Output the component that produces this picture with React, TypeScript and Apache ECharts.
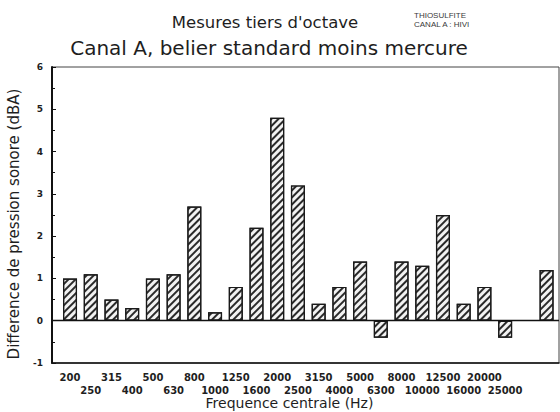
import React, { useEffect, useRef } from "react";
import * as echarts from "echarts";

const categories = ["200", "250", "315", "400", "500", "630", "800", "1000", "1250", "1600", "2000", "2500", "3150", "4000", "5000", "6300", "8000", "10000", "12500", "16000", "20000", "25000", "31500", "40000"];
const values: (number | null)[] = [1.0, 1.1, 0.5, 0.3, 1.0, 1.1, 2.7, 0.2, 0.8, 2.2, 4.8, 3.2, 0.4, 0.8, 1.4, -0.4, 1.4, 1.3, 2.5, 0.4, 0.8, -0.4, null, 1.2];
const labelledCount = 22;
const titleText = "Mesures tiers d'octave";
const subtitleText = "Canal A, belier standard moins mercure";
const noteLines = ["THIOSULFITE", "CANAL A : HIVI"];
const yName = "Difference de pression sonore (dBA)";
const xName = "Frequence centrale (Hz)";

export default function App() {
  const ref = useRef<HTMLDivElement>(null);
  useEffect(() => {
    if (!ref.current) return;
    const chart = echarts.init(ref.current, null, { renderer: "svg" });
    const font = "DejaVu Sans";
    const data = values
      .map((v, i) => (v === null ? null : [i, v]))
      .filter((d) => d !== null);
    const idx = categories.slice(0, labelledCount).map((_, i) => i);
    const labelStyle = {
      formatter: (v: number) => categories[Math.round(v)],
      hideOverlap: false,
      fontFamily: font,
      fontSize: 10,
      fontWeight: "bold",
      color: "#1e1e1e",
    };
    const xBase = {
      type: "value",
      min: -0.87,
      max: 23.6,
      position: "bottom",
      axisTick: { show: false },
      splitLine: { show: false },
    };
    chart.setOption({
      animation: false,
      backgroundColor: "#fff",
      grid: { left: 52, right: 1, top: 67, bottom: 49, show: true, borderColor: "#444", borderWidth: 1, containLabel: false, outerBoundsMode: "none" },
      graphic: [
        { type: "text", x: 265, y: 22, style: { text: titleText, fontFamily: font, fontSize: 16.5, fill: "#1e1e1e", textAlign: "center", textVerticalAlign: "middle" } },
        { type: "text", x: 269, y: 48, style: { text: subtitleText, fontFamily: font, fontSize: 20, fill: "#1e1e1e", textAlign: "center", textVerticalAlign: "middle" } },
        { type: "text", x: 414, y: 15, style: { text: noteLines[0], fontFamily: "Liberation Sans", fontSize: 8, fill: "#3a3a3a", textVerticalAlign: "middle" } },
        { type: "text", x: 414, y: 24, style: { text: noteLines[1], fontFamily: "Liberation Sans", fontSize: 8, fill: "#3a3a3a", textVerticalAlign: "middle" } },
      ],
      xAxis: [
        {
          ...xBase,
          name: xName,
          nameLocation: "middle",
          nameGap: 33,
          nameTextStyle: { fontFamily: font, fontSize: 14, color: "#1e1e1e", padding: [0, 32, 0, 0] },
          axisLine: { show: true, onZero: false, lineStyle: { color: "#111", width: 1.6 } },
          axisLabel: { ...labelStyle, customValues: idx.filter((i) => i % 2 === 0), margin: 9 },
        },
        {
          ...xBase,
          axisLine: { show: false, onZero: false },
          axisLabel: { ...labelStyle, customValues: idx.filter((i) => i % 2 === 1), margin: 22 },
        },
      ],
      yAxis: {
        type: "value",
        min: -1,
        max: 6,
        interval: 1,
        name: yName,
        nameLocation: "middle",
        nameRotate: 90,
        nameGap: 31,
        nameTextStyle: { fontFamily: font, fontSize: 15, color: "#1e1e1e", padding: [0, 18, 0, 0] },
        axisLine: { show: true, onZero: false, lineStyle: { color: "#111", width: 2 } },
        axisTick: { show: true, inside: true, length: 4, lineStyle: { color: "#111" } },
        minorTick: { show: true, splitNumber: 2, length: 3, lineStyle: { color: "#111" } },
        splitLine: { show: false },
        axisLabel: { fontFamily: font, fontSize: 9, fontWeight: "bold", color: "#1e1e1e", margin: 9 },
      },
      series: [
        {
          type: "bar",
          xAxisIndex: 0,
          data,
          barWidth: 14,
          itemStyle: {
            color: "#f2f2f2",
            borderColor: "#1a1a1a",
            borderWidth: 1.2,
            decal: {
              symbol: "rect",
              symbolSize: 1,
              dashArrayX: [1, 0],
              dashArrayY: [1.2, 2.4],
              rotation: -Math.PI / 4,
              color: "#2a2a2a",
            },
          },
          markLine: {
            silent: true,
            symbol: ["none", "none"],
            label: { show: false },
            lineStyle: { color: "#111", width: 1.3, type: "solid" },
            data: [{ yAxis: 0 }],
          },
        },
      ],
    });
    return () => chart.dispose();
  }, []);
  return <div ref={ref} style={{ width: 560, height: 412, position: "absolute", left: 0, top: 0 }} />;
}
